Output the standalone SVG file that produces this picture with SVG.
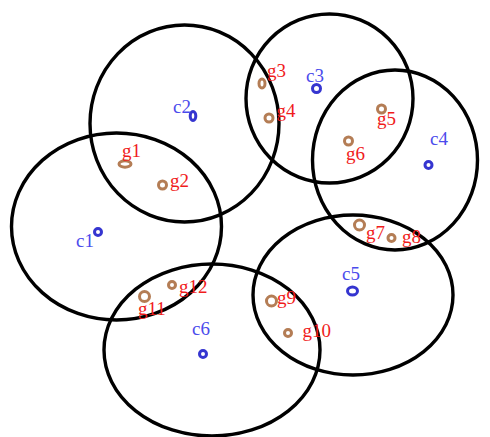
<svg xmlns="http://www.w3.org/2000/svg" width="490" height="437" viewBox="0 0 490 437">
<style>
.reg{fill:none;stroke:#000;stroke-width:3.4}
.cd{fill:#fff;stroke:#3535d0;stroke-width:3}
.gd{fill:#fff;stroke:#b47d55;stroke-width:3}
.cl{font-family:"Liberation Serif",serif;font-size:19px;fill:#4b4bec}
.gl{font-family:"Liberation Serif",serif;font-size:19px;fill:#f01c1c}
</style>
<rect width="490" height="437" fill="#fff"/>
<g id="regions">
<ellipse id="r1" class="reg" cx="116.5" cy="226.5" rx="105" ry="93.5"/>
<ellipse id="r2" class="reg" cx="184.5" cy="123.5" rx="94.5" ry="98.5"/>
<ellipse id="r3" class="reg" cx="329.5" cy="98.5" rx="83.5" ry="84.5"/>
<ellipse id="r4" class="reg" cx="395" cy="160" rx="82.5" ry="90"/>
<ellipse id="r5" class="reg" cx="353" cy="295" rx="100" ry="80"/>
<ellipse id="r6" class="reg" cx="212" cy="350" rx="108" ry="86"/>
</g>
<g id="c1"><circle class="cd" cx="98" cy="232" r="3.5"/><text class="cl" x="76" y="247">c1</text></g>
<g id="c2"><ellipse class="cd" cx="193" cy="116" rx="2.8" ry="4.5"/><text class="cl" x="173" y="113">c2</text></g>
<g id="c3"><circle class="cd" cx="316.5" cy="88.5" r="4"/><text class="cl" x="306" y="82">c3</text></g>
<g id="c4"><circle class="cd" cx="428.5" cy="165" r="3.5"/><text class="cl" x="430" y="145">c4</text></g>
<g id="c5"><ellipse class="cd" cx="352.5" cy="291" rx="5" ry="4"/><text class="cl" x="342" y="280">c5</text></g>
<g id="c6"><circle class="cd" cx="203" cy="354" r="3.5"/><text class="cl" x="192" y="335">c6</text></g>
<g id="g1"><ellipse class="gd" cx="125" cy="164" rx="6" ry="3.2"/><text class="gl" x="122" y="157">g1</text></g>
<g id="g2"><ellipse class="gd" cx="162.5" cy="185" rx="4" ry="4"/><text class="gl" x="170" y="187">g2</text></g>
<g id="g3"><ellipse class="gd" cx="262" cy="83.5" rx="3" ry="4.5"/><text class="gl" x="267" y="77">g3</text></g>
<g id="g4"><circle class="gd" cx="269" cy="118" r="4"/><text class="gl" x="276.5" y="117">g4</text></g>
<g id="g5"><circle class="gd" cx="381.5" cy="109" r="4"/><text class="gl" x="377" y="125">g5</text></g>
<g id="g6"><circle class="gd" cx="348.5" cy="141" r="4"/><text class="gl" x="346" y="160">g6</text></g>
<g id="g7"><circle class="gd" cx="359.5" cy="225" r="5"/><text class="gl" x="366" y="239">g7</text></g>
<g id="g8"><circle class="gd" cx="391.5" cy="238" r="3.5"/><text class="gl" x="402" y="243">g8</text></g>
<g id="g9"><circle class="gd" cx="271.5" cy="301" r="5"/><text class="gl" x="277" y="304">g9</text></g>
<g id="g10"><circle class="gd" cx="288" cy="333" r="3.5"/><text class="gl" x="302.5" y="337">g10</text></g>
<g id="g11"><circle class="gd" cx="144.5" cy="296.5" r="5"/><text class="gl" x="138" y="315">g11</text></g>
<g id="g12"><circle class="gd" cx="172" cy="285" r="3.5"/><text class="gl" x="179" y="293">g12</text></g>
</svg>
